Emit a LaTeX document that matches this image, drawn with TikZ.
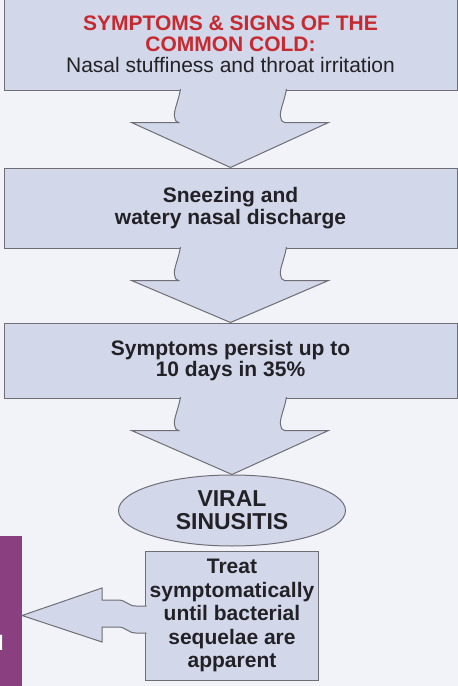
\documentclass[tikz,border=0pt]{standalone}
\usepackage{fontspec}
\setmainfont{Liberation Sans}
\usepackage{tikz}
\usetikzlibrary{positioning,shapes.geometric,calc}

\definecolor{boxfill}{HTML}{D3D7EA}
\definecolor{bgcol}{HTML}{F2F3F8}
\definecolor{edgecol}{HTML}{6E6E74}
\definecolor{titlered}{HTML}{C42A30}
\definecolor{sidepurple}{HTML}{8A3F80}
\definecolor{textdark}{HTML}{222226}

% wide down arrow with torn stem, from one node to the next
\newcommand{\downblock}[2]{%
  \filldraw[blockarrow] ($(#1.south)+(-50,-1.5)$) .. controls +(-2,12) and +(-1,-6) .. ($(#1.south)+(-56,26)$)
    .. controls +(0.5,3) and +(-3,0) .. ($(#1.south)+(-52,32)$) -- ($(#1.south)+(-99,32)$) -- (#2.north)
    -- ($(#1.south)+(98,32)$) -- ($(#1.south)+(54,32)$) .. controls +(-3,0) and +(0.5,3) .. ($(#1.south)+(50,26)$)
    .. controls +(-1,-6) and +(-2,12) .. ($(#1.south)+(56,-1.5)$);}

\begin{document}
\begin{tikzpicture}[
    x=1pt, y=-1pt,
    node distance=77pt,
    box/.style={rectangle, draw=edgecol, fill=boxfill, line width=1pt, inner sep=0pt, align=center,
      text=textdark, font=\bfseries\fontsize{21}{21.5}\selectfont},
    stage/.style={box, minimum width=453pt, minimum height=78pt},
    oval/.style={box, ellipse, minimum width=227pt, minimum height=71pt, font=\bfseries\fontsize{23}{23}\selectfont},
    treatbox/.style={box, minimum width=173pt, minimum height=129pt, font=\bfseries\fontsize{21}{23.5}\selectfont},
    sidebox/.style={rectangle, fill=sidepurple, inner sep=0pt, text=white, font=\bfseries\fontsize{21}{21}\selectfont},
    blockarrow/.style={draw=edgecol, fill=boxfill, line width=1pt, line join=miter}
]
\clip (0,0) rectangle (458,686);
\fill[bgcol] (0,0) rectangle (458,686);

% Nodes
\node[stage, minimum height=92pt, font=\bfseries\fontsize{21}{21}\selectfont] (cold) at (230.5,44)
  {\textcolor{titlered}{SYMPTOMS \& SIGNS OF THE}\\\textcolor{titlered}{COMMON COLD:}\\\mdseries Nasal stuffiness and throat irritation};
\node[stage, minimum height=80pt, below=77pt of cold] (sneeze) {Sneezing and\\watery nasal discharge};
\node[stage, minimum height=75pt, below=74pt of sneeze] (persist) {Symptoms persist up to\\10 days in 35\%};
\node[oval, below=76pt of persist, xshift=1.5pt] (viral) {VIRAL\\SINUSITIS};
\node[treatbox, below=4pt of viral] (treat) {Treat\\symptomatically\\until bacterial\\sequelae are\\apparent};
\node[sidebox, anchor=north east, minimum width=49pt, minimum height=214pt] (side) at (22,536) {d};

% Arrows
\downblock{cold}{sneeze}
\downblock{sneeze}{persist}
\downblock{persist}{viral}
\filldraw[blockarrow] ($(treat.west)+(1.5,-9.5)$) -- ($(treat.west)+(-9,-9.5)$)
  .. controls +(-8,0) and +(8,0) .. ($(treat.west)+(-27,-15.5)$) -- ($(treat.west)+(-43,-15.5)$)
  -- ($(treat.west)+(-43,-27.5)$) -- (side.east |- treat.west) -- ($(treat.west)+(-43,26.5)$)
  -- ($(treat.west)+(-43,11.5)$) -- ($(treat.west)+(-27,11.5)$)
  .. controls +(8,0) and +(-8,0) .. ($(treat.west)+(-9,17.5)$) -- ($(treat.west)+(1.5,17.5)$);

\end{tikzpicture}
\end{document}
